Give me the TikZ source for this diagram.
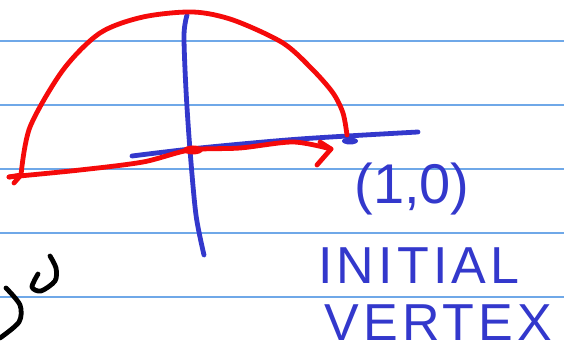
\documentclass[tikz,border=0pt]{standalone}
\usepackage{fontspec}
\usepackage{tikz}
\usetikzlibrary{positioning}
\newfontfamily\handfont{Liberation Sans}
\newfontfamily\handwide[LetterSpace=8]{Liberation Sans}
\definecolor{ruleline}{HTML}{6FA8E8}
\definecolor{inkblue}{HTML}{3338CC}
\definecolor{inkred}{HTML}{F50A0A}

\begin{document}
\begin{tikzpicture}[x=0.5pt,y=-0.5pt,
  ruled/.style={draw=ruleline,line width=0.8pt},
  pen/.style={draw=#1,line width=2.4pt,line cap=round,line join=round},
  label/.style={text=inkblue,font=\handfont,inner sep=0pt,anchor=base west},
  ]
  % ---- paper ----
  \fill[white] (0,0) rectangle (564,353);
  \useasboundingbox (0,0) rectangle (564,353);
  \foreach \y in {41,105,169,233,297}
    \draw[ruled] (0,\y) -- (564,\y);

  % ---- axes ----
  \draw[pen=inkblue] plot[smooth] coordinates {(187,15) (184,35) (186,90) (190,150) (196,215) (204,255)};
  \draw[pen=inkblue] plot[smooth] coordinates {(132,156) (200,148) (300,139) (418,132)};
  \fill[inkblue] (350,141) ellipse (8 and 3.5);

  % ---- red half turn ----
  \draw[pen=inkred] plot[smooth] coordinates {(347,135) (343,113) (333,93) (313,70) (283,43) (233,20)
     (193,12) (143,17) (100,33) (63,70) (30,127) (21,175)};
  \draw[pen=inkred] (9,177) -- (21,175) -- (14,183);
  \draw[pen=inkred] plot[smooth] coordinates {(9,177) (80,170) (143,162) (190,150) (240,148) (293,142) (331,149)};
  \fill[inkred] (193,150) ellipse (10 and 4.5);
  \draw[pen=inkred] (320,142) -- (331,149) -- (317,165);

  % ---- black fragment at the edge ----
  \draw[pen=black] plot[smooth] coordinates {(6,288) (20,305) (19,322) (0,338)};
  \draw[pen=black] plot[smooth] coordinates {(38,274) (32,287) (41,291) (55,281) (56,268) (50,256)};

  % ---- labels ----
  \node[label,font=\handfont\fontsize{28}{28}\selectfont] (point) at (354,204) {(1,0)};
  \node[label,font=\handwide\fontsize{26}{26}\selectfont] (initial) at (318,284) {INITIAL};
  \node[label,font=\handwide\fontsize{26}{26}\selectfont] (vertex) at (324,341) {VERTEX};
\end{tikzpicture}
\end{document}
